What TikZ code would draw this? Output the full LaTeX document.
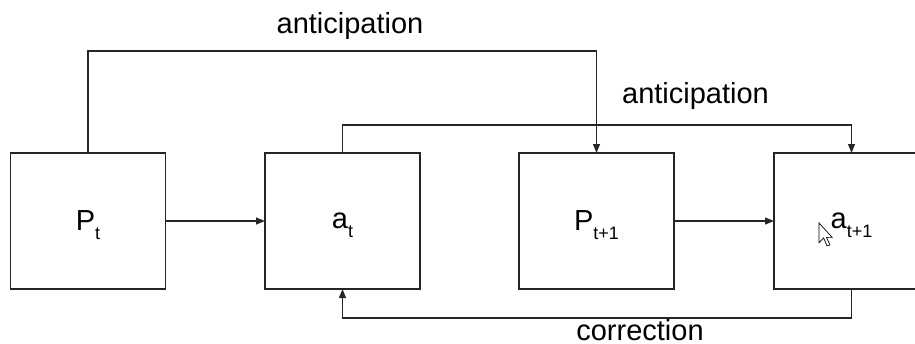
\documentclass[tikz,border=0pt]{standalone}
\usepackage{fontspec}
\setmainfont{Liberation Sans}
\usetikzlibrary{arrows.meta}
\newcommand{\lowsub}[1]{\smash{\raisebox{-9pt}{\fontsize{18}{20}\selectfont #1}}}
\begin{document}
\begin{tikzpicture}[x=1pt,y=-1pt,
  stage/.style={draw=black!85,line width=1.2pt,rectangle,minimum width=155pt,
    minimum height=136pt,inner sep=0pt,outer sep=0pt,
    font=\fontsize{29}{34}\selectfont},
  link/.style={draw=black!85,line width=1.2pt,-{Triangle[length=9pt,width=7pt]}},
  lbl/.style={anchor=base,inner sep=0pt,font=\fontsize{29}{34}\selectfont}]
\useasboundingbox (0,0) rectangle (915,343);
\clip (0,0) rectangle (915,343);

% the four stages
\node[stage] (pt)  at (88,221)    {\raisebox{-1.5pt}{P\lowsub{t}}};
\node[stage] (at)  at (342.5,221) {\raisebox{-1.5pt}{a\lowsub{t}}};
\node[stage] (pt1) at (596.5,221) {\raisebox{-1.5pt}{P\lowsub{t+1}}};
\node[stage] (at1) at (851.5,221) {\raisebox{-1.5pt}{a\lowsub{t+1}}};

% forward links
\draw[link] (pt) -- (at);
\draw[link] (pt1) -- (at1);

% anticipation loops over the top
\draw[link] (pt.north) -- ++(0,-102) -| (pt1.north);
\draw[link] (at.north) -- ++(0,-28) -| (at1.north);

% correction loop underneath
\draw[link] (at1.south) -- ++(0,29) -| (at.south);

% labels
\node[lbl] (l1) at (350,33)    {anticipation};
\node[lbl] (l2) at (695.5,103) {anticipation};
\node[lbl] (l3) at (640,340)   {correction};

% mouse pointer inside the last stage
\begin{scope}[shift={(819,223)},scale=1.15]
  \draw[fill=white,line width=0.7pt,line join=miter]
    (0,0) -- (0,17) -- (4,13) -- (7,20) -- (9.5,19) -- (6.5,12.5) -- (11.5,12.5) -- cycle;
\end{scope}
\end{tikzpicture}
\end{document}
